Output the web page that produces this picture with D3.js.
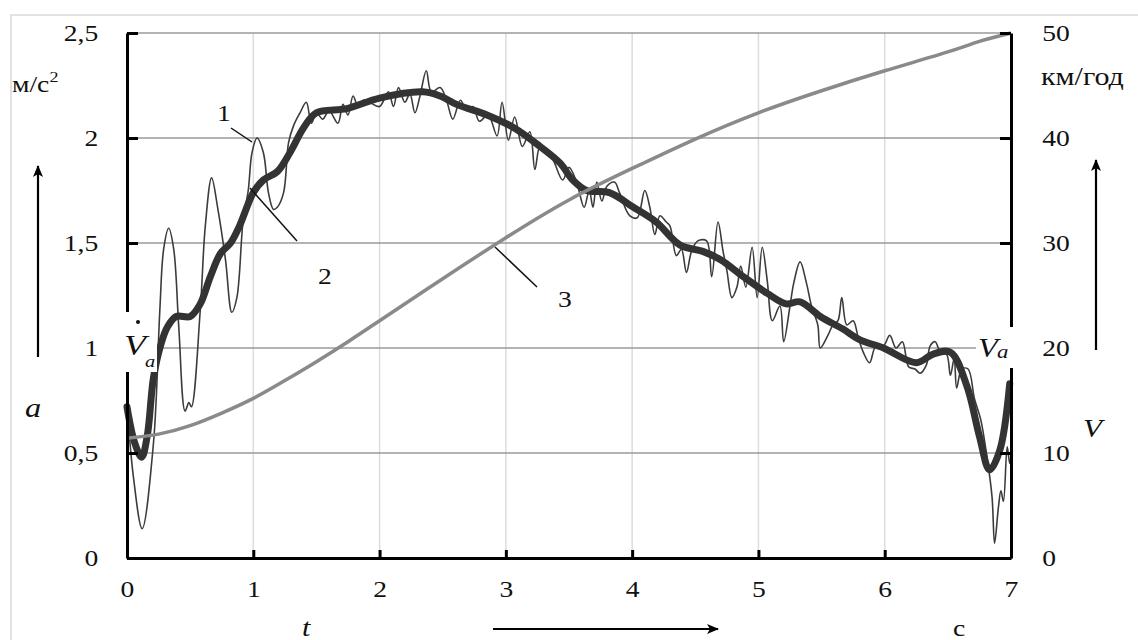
<!DOCTYPE html>
<html>
<head>
<meta charset="utf-8">
<script src="https://cdn.jsdelivr.net/npm/d3@7/dist/d3.min.js"></script>
<style>
  html, body { margin: 0; padding: 0; background: #fff; }
  svg { display: block; }
</style>
</head>
<body>
<svg id="chart" width="1138" height="640"></svg>
<script>
// Time axis and tick values
const tTicks = [0, 1, 2, 3, 4, 5, 6, 7];
const aTicks = [0, 0.5, 1, 1.5, 2, 2.5];
const vTicks = [0, 10, 20, 30, 40, 50];

// Curve 1: measured acceleration, m/s^2
const t1 = [0, 0.05, 0.12, 0.21, 0.26, 0.29, 0.33, 0.37, 0.41, 0.46, 0.49, 0.51, 0.58, 0.62, 0.67, 0.72, 0.78, 0.83, 0.87, 0.92,
  0.96, 0.99, 1.03, 1.08, 1.12, 1.16, 1.19, 1.24, 1.28, 1.32, 1.37, 1.42, 1.46, 1.50, 1.55, 1.60, 1.67, 1.71, 1.75, 1.79,
  1.83, 1.87, 1.92, 2.00, 2.07, 2.11, 2.15, 2.20, 2.24, 2.28, 2.32, 2.37, 2.41, 2.48, 2.53, 2.58, 2.64, 2.69, 2.74, 2.79,
  2.86, 2.93, 2.97, 3.02, 3.07, 3.13, 3.19, 3.23, 3.27, 3.32, 3.37, 3.45, 3.50, 3.56, 3.62, 3.66, 3.69, 3.72, 3.76, 3.80,
  3.86, 3.90, 3.98, 4.04, 4.10, 4.14, 4.18, 4.22, 4.27, 4.30, 4.35, 4.39, 4.43, 4.47, 4.52, 4.59, 4.63, 4.68, 4.72, 4.75,
  4.79, 4.83, 4.86, 4.90, 4.95, 4.99, 5.03, 5.07, 5.11, 5.17, 5.20, 5.25, 5.28, 5.33, 5.38, 5.42, 5.47, 5.49, 5.55, 5.59,
  5.63, 5.66, 5.70, 5.75, 5.79, 5.83, 5.88, 5.93, 5.99, 6.04, 6.09, 6.14, 6.19, 6.24, 6.28, 6.33, 6.36, 6.40, 6.44, 6.49,
  6.52, 6.55, 6.57, 6.61, 6.66, 6.71, 6.76, 6.81, 6.85, 6.87, 6.90, 6.92, 6.94, 6.97, 6.99, 7.0];
const a1 = [0.74, 0.39, 0.14, 0.55, 1.18, 1.47, 1.57, 1.47, 1.10, 0.70, 0.74, 0.72, 1.18, 1.58, 1.81, 1.66, 1.42, 1.17, 1.24, 1.61,
  1.75, 1.93, 2.00, 1.93, 1.74, 1.66, 1.67, 1.74, 1.98, 2.06, 2.12, 2.17, 2.07, 2.12, 2.09, 2.13, 2.07, 2.16, 2.11, 2.20,
  2.15, 2.18, 2.17, 2.15, 2.22, 2.15, 2.24, 2.17, 2.21, 2.12, 2.20, 2.32, 2.22, 2.24, 2.18, 2.09, 2.18, 2.13, 2.15, 2.08,
  2.11, 2.01, 2.17, 1.99, 2.10, 1.96, 2.03, 1.85, 1.96, 1.93, 1.90, 1.80, 1.86, 1.79, 1.67, 1.75, 1.67, 1.79, 1.70, 1.77,
  1.79, 1.74, 1.63, 1.62, 1.75, 1.67, 1.54, 1.63, 1.60, 1.58, 1.44, 1.47, 1.36, 1.46, 1.51, 1.51, 1.34, 1.60, 1.46, 1.37,
  1.24, 1.29, 1.39, 1.29, 1.48, 1.24, 1.48, 1.32, 1.13, 1.20, 1.03, 1.20, 1.31, 1.41, 1.31, 1.20, 1.11, 1.00, 1.06, 1.11,
  1.13, 1.24, 1.11, 1.13, 1.05, 0.98, 0.93, 1.01, 1.01, 1.06, 1.00, 1.03, 0.91, 0.90, 0.88, 0.92, 1.01, 1.03, 0.98, 0.97,
  0.87, 0.95, 0.81, 0.90, 0.90, 0.76, 0.66, 0.48, 0.29, 0.07, 0.24, 0.32, 0.27, 0.53, 0.45, 0.48];

// Curve 2: smoothed acceleration, m/s^2
const t2 = [0, 0.06, 0.116, 0.16, 0.21, 0.27, 0.32, 0.39, 0.5, 0.58, 0.66, 0.74, 0.82, 0.89, 1.0, 1.08, 1.19, 1.29, 1.40, 1.50,
  1.74, 2.0, 2.34, 2.48, 2.61, 2.85, 3.06, 3.27, 3.43, 3.53, 3.64, 3.82, 4.01, 4.19, 4.38, 4.56, 4.70, 4.88, 5.07, 5.22,
  5.33, 5.49, 5.67, 5.80, 5.99, 6.25, 6.38, 6.52, 6.65, 6.75, 6.83, 6.91, 6.99];
const a2 = [0.72, 0.55, 0.48, 0.58, 0.86, 1.02, 1.10, 1.15, 1.15, 1.21, 1.34, 1.45, 1.50, 1.58, 1.74, 1.80, 1.84, 1.93, 2.05, 2.12,
  2.14, 2.19, 2.22, 2.20, 2.16, 2.11, 2.05, 1.96, 1.88, 1.80, 1.75, 1.74, 1.67, 1.60, 1.49, 1.46, 1.42, 1.34, 1.26, 1.21,
  1.22, 1.15, 1.09, 1.04, 1.00, 0.93, 0.97, 0.98, 0.82, 0.58, 0.42, 0.51, 0.83];

// Curve 3: vehicle speed, km/h
const t3 = [0, 0.25, 0.5, 0.75, 1, 1.25, 1.5, 1.75, 2, 2.5, 3, 3.5, 4, 4.5, 5, 5.5, 6, 6.5, 6.75, 7];
const v3 = [11.4, 11.8, 12.6, 13.8, 15.2, 16.9, 18.7, 20.6, 22.6, 26.6, 30.5, 34.1, 37.1, 39.9, 42.4, 44.5, 46.4, 48.2, 49.2, 50];

const svg = d3.select("#chart");
const SERIF = "'Liberation Serif', 'Times New Roman', serif";
const STRETCH = 1.2;   // the lettering is set slightly wide

const x = d3.scaleLinear().domain([0, 7]).range([127, 1011]);
const yA = d3.scaleLinear().domain([0, 2.5]).range([558, 33]);
const yV = d3.scaleLinear().domain([0, 50]).range([558, 33]);
const comma = d => String(d).replace(".", ",");

// outer light frame
svg.append("path").attr("d", "M11,640 V15 H1138")
  .attr("fill", "none").attr("stroke", "#e2e2e2").attr("stroke-width", 2);

// vertical grid
svg.append("g").selectAll("line").data(tTicks.slice(1, -1)).join("line")
  .attr("x1", d => x(d)).attr("x2", d => x(d))
  .attr("y1", yA(0)).attr("y2", yA(2.5))
  .attr("stroke", "#dcdcdc").attr("stroke-width", 1.5);

// horizontal grid
svg.append("g").selectAll("line").data(aTicks.slice(1)).join("line")
  .attr("x1", x(0)).attr("x2", x(7))
  .attr("y1", d => yA(d)).attr("y2", d => yA(d))
  .attr("stroke", "#9a9a9a").attr("stroke-width", 1.6);

// curves
const line1 = d3.line().x(i => x(t1[i])).y(i => yA(a1[i])).curve(d3.curveCatmullRom.alpha(0.5));
svg.append("path").attr("d", line1(d3.range(t1.length)))
  .attr("fill", "none").attr("stroke", "#3c3c3c").attr("stroke-width", 1.6);

const line2 = d3.line().x(i => x(t2[i])).y(i => yA(a2[i])).curve(d3.curveCatmullRom.alpha(0.5));
svg.append("path").attr("d", line2(d3.range(t2.length)))
  .attr("fill", "none").attr("stroke", "#333").attr("stroke-width", 7)
  .attr("stroke-linejoin", "round").attr("stroke-linecap", "round");

const line3 = d3.line().x(i => x(t3[i])).y(i => yV(v3[i])).curve(d3.curveNatural);
svg.append("path").attr("d", line3(d3.range(t3.length)))
  .attr("fill", "none").attr("stroke", "#8a8a8a").attr("stroke-width", 3.5);

// axes
const styleAxis = g => {
  g.attr("font-family", null).attr("font-size", null);
  g.select(".domain").attr("stroke", "#000").attr("stroke-width", 3);
  g.selectAll(".tick line").attr("stroke", "#000").attr("stroke-width", 3);
  g.selectAll(".tick text")
    .style("font-family", SERIF).style("font-size", "23px").attr("fill", "#111")
    .attr("transform", `scale(${STRETCH},1)`);
};

svg.append("g").attr("transform", `translate(${x(0)},0)`)
  .call(d3.axisLeft(yA).tickValues(aTicks).tickFormat(comma).tickSizeInner(-11).tickSizeOuter(0).tickPadding(24))
  .call(styleAxis);

svg.append("g").attr("transform", `translate(${x(7)},0)`)
  .call(d3.axisRight(yV).tickValues(vTicks).tickFormat(d3.format("d")).tickSizeInner(-11).tickSizeOuter(0).tickPadding(26))
  .call(styleAxis);

svg.append("g").attr("transform", `translate(0,${yA(0)})`)
  .call(d3.axisBottom(x).tickValues(tTicks).tickFormat(d3.format("d")).tickSizeInner(-8).tickSizeOuter(0).tickPadding(23))
  .call(styleAxis);

// free text helper
function label(px, py, str, size, italic, anchor) {
  return svg.append("text")
    .attr("transform", `translate(${px},${py}) scale(${STRETCH},1)`)
    .style("font-family", SERIF).style("font-size", size + "px")
    .style("font-style", italic ? "italic" : "normal")
    .attr("text-anchor", anchor || "start").attr("fill", "#111")
    .text(str);
}

// white boxes behind the axis-end labels
svg.append("rect").attr("x", 124).attr("y", 312).attr("width", 33).attr("height", 60).attr("fill", "#fff");
svg.append("rect").attr("x", 976).attr("y", 327).attr("width", 38).attr("height", 41).attr("fill", "#fff");

// V-dot a (left)
label(124, 355, "V", 30, true);
svg.append("circle").attr("cx", 138).attr("cy", 322).attr("r", 2).attr("fill", "#111");
label(145, 367, "a", 17, true);

// V a (right)
label(978, 357, "V", 27, true);
label(997, 358, "a", 19, true);

// units
const unit = label(12, 92, "м/с", 23, false);
unit.append("tspan").attr("dy", -10).style("font-size", "15px").text("2");
label(1041, 85, "км/год", 25, false);

// axis symbols
label(25, 417, "a", 27, true);
label(1083, 437, "V", 26, true);
label(302, 636, "t", 25, true);
label(953, 636, "c", 23, false);

// arrows
const defs = svg.append("defs");
defs.append("marker").attr("id", "arr").attr("viewBox", "0 0 12 10").attr("refX", 11).attr("refY", 5)
  .attr("markerWidth", 12).attr("markerHeight", 10).attr("markerUnits", "userSpaceOnUse").attr("orient", "auto")
  .append("path").attr("d", "M0,0 L12,5 L0,10 L3,5 Z").attr("fill", "#000");
const arrow = (x1, y1, x2, y2) => svg.append("line")
  .attr("x1", x1).attr("y1", y1).attr("x2", x2).attr("y2", y2)
  .attr("stroke", "#000").attr("stroke-width", 2.2).attr("marker-end", "url(#arr)");
arrow(38, 357, 38, 166);
arrow(1096, 350, 1096, 160);
arrow(493, 629, 718, 629);

// curve numbers with leader lines
const leader = (x1, y1, x2, y2) => svg.append("line")
  .attr("x1", x1).attr("y1", y1).attr("x2", x2).attr("y2", y2)
  .attr("stroke", "#111").attr("stroke-width", 1.5);
label(224, 121, "1", 23, false, "middle");
leader(231, 128, 252, 142);
label(325, 284, "2", 23, false, "middle");
leader(250, 188, 297, 241);
label(565, 307, "3", 23, false, "middle");
leader(495, 247, 537, 287);
</script>
</body>
</html>
